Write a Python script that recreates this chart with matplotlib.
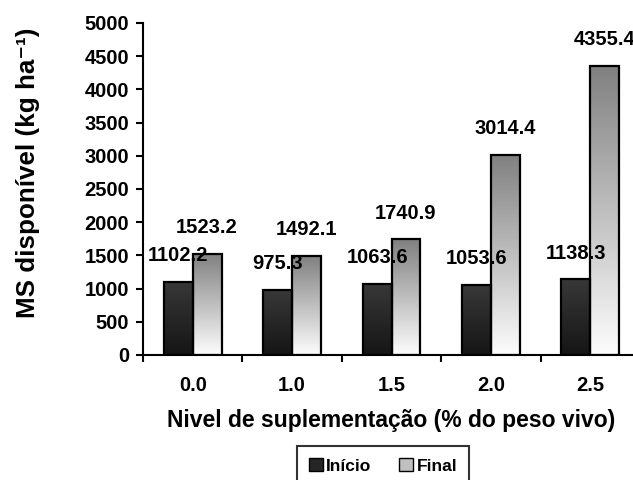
import numpy as np
import matplotlib
matplotlib.use("Agg")
import matplotlib.pyplot as plt
from matplotlib.patches import Patch
from matplotlib.colors import LinearSegmentedColormap

# dados
niveis  = ["0.0", "1.0", "1.5", "2.0", "2.5"]
inicio  = [1102.2, 975.3, 1063.6, 1053.6, 1138.3]
final   = [1523.2, 1492.1, 1740.9, 3014.4, 4355.4]
y_ticks = [0, 500, 1000, 1500, 2000, 2500, 3000, 3500, 4000, 4500, 5000]

plt.rcParams['font.family'] = ['Liberation Sans', 'DejaVu Sans']
plt.rcParams['font.weight'] = 'bold'

# gradientes tipo excel (topo -> base)
cmap_ini = LinearSegmentedColormap.from_list("ini", ["#383838", "#151515"])
cmap_fin = LinearSegmentedColormap.from_list("fin", ["#808080", "#fdfdfd"])
grad = np.linspace(0, 1, 256).reshape(-1, 1)

fig = plt.figure(figsize=(6.33, 4.8), dpi=100)
ax = fig.add_axes([143/633, 1 - 355/480, 497/633, 332/480])

x = np.arange(len(niveis))
w = 0.29

for xs, vals, cmap in [(x - w/2, inicio, cmap_ini), (x + w/2, final, cmap_fin)]:
    bars = ax.bar(xs, vals, width=w, facecolor='none', edgecolor='black',
                  linewidth=1.6, zorder=3)
    for b in bars:
        x0, h = b.get_x(), b.get_height()
        ax.imshow(grad, extent=[x0, x0 + w, 0, h], aspect='auto',
                  cmap=cmap, zorder=2)
    for xi, v in zip(xs, vals):
        ax.annotate(f"{v:.1f}", (xi, v), xytext=(0, 19), textcoords='offset points',
                    ha='center', va='center', fontsize=14.5, fontweight='bold')

ax.set_xlim(-0.5, len(niveis) - 0.5)
ax.set_ylim(0, 5000)
ax.set_yticks(y_ticks)
ax.set_yticklabels([str(t) for t in y_ticks], fontsize=14.5, fontweight='bold')

# ticks nas fronteiras, rotulos no centro
ax.set_xticks(np.arange(len(niveis) + 1) - 0.5)
ax.set_xticklabels([])
ax.set_xticks(x, minor=True)
ax.set_xticklabels(niveis, minor=True, fontsize=14.5, fontweight='bold')
ax.tick_params(axis='x', which='minor', length=0, pad=15)
ax.tick_params(axis='y', which='major', pad=5)
ax.tick_params(axis='both', which='major', length=5, width=1.5, direction='out')

for s in ['top', 'right']:
    ax.spines[s].set_visible(False)
for s in ['left', 'bottom']:
    ax.spines[s].set_linewidth(1.5)

ax.set_xlabel("Nivel de suplementação (% do peso vivo)", fontsize=16.5,
              fontweight='bold', labelpad=10)
ax.set_ylabel("MS disponível (kg ha⁻¹)", fontsize=18.7, fontweight='bold')
ax.yaxis.set_label_coords(-0.208, 0.548)

handles = [Patch(facecolor='#262626', edgecolor='black', label='Início'),
           Patch(facecolor='#c0c0c0', edgecolor='black', label='Final')]
leg = fig.legend(handles=handles, loc='upper center', bbox_to_anchor=(383/633, 1 - 446/480),
                 ncol=2, fancybox=False, edgecolor='black', fontsize=12.5,
                 handlelength=0.8, handleheight=0.8, handletextpad=0.2,
                 columnspacing=1.6, borderaxespad=0, borderpad=0.7)
leg.get_frame().set_linewidth(1.5)

fig.savefig("out.png", dpi=100)
